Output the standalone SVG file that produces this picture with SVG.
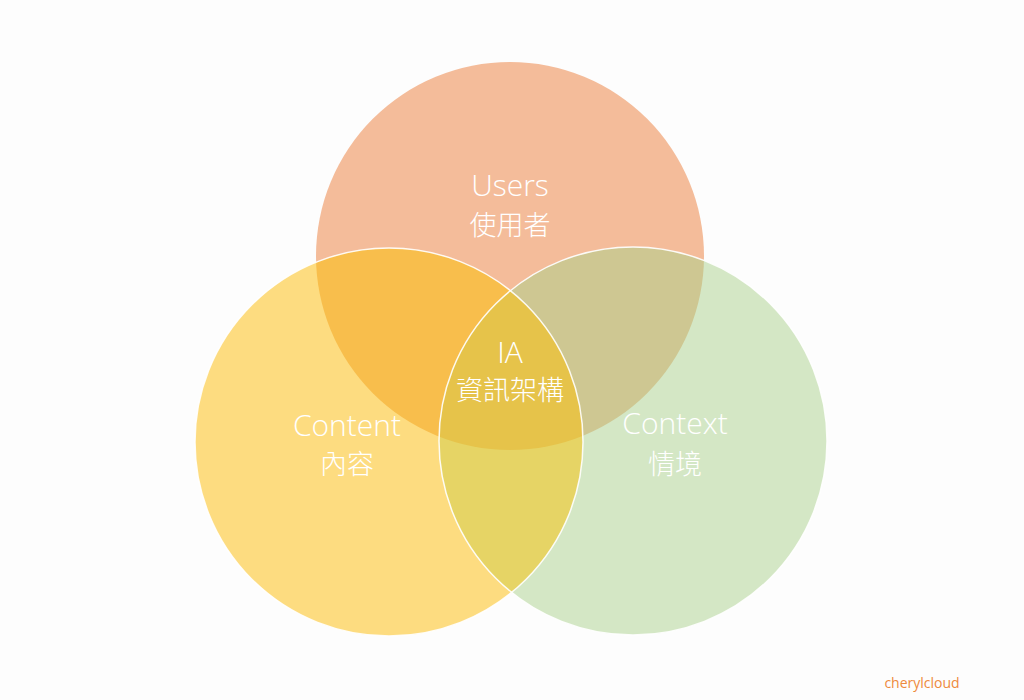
<svg xmlns="http://www.w3.org/2000/svg" width="1024" height="700" viewBox="0 0 1024 700">
<style>
.lbl{font-family:"Open Sans","Noto Sans","Noto Sans CJK TC",sans-serif;font-weight:300;fill:#ffffff;text-anchor:middle}
.en{font-size:30px}
.zh{font-family:"Noto Sans CJK TC","Noto Sans CJK JP",sans-serif;font-size:27px;font-weight:300}
.ol{fill:none;stroke:#ffffff;stroke-width:1.5;stroke-opacity:0.9}
</style>
<defs>
<clipPath id="cU"><circle cx="510" cy="256" r="194"/></clipPath>
<clipPath id="cC"><circle cx="389" cy="442" r="194"/></clipPath>
<clipPath id="cX"><circle cx="633" cy="441" r="194"/></clipPath>
</defs>
<rect width="1024" height="700" fill="#fdfdfd"/>
<g id="users">
<circle cx="510" cy="256" r="194" fill="#f4bc9a"/>
</g>
<g id="content">
<circle cx="389" cy="442" r="194" fill="#fddc80"/>
</g>
<g id="context">
<circle cx="633" cy="441" r="194" fill="#d4e7c5"/>
</g>
<g id="overlaps">
<circle cx="389" cy="442" r="194" fill="#f8be4c" clip-path="url(#cU)"/>
<circle cx="633" cy="441" r="194" fill="#cec792" clip-path="url(#cU)"/>
<circle cx="633" cy="441" r="194" fill="#e6d465" clip-path="url(#cC)"/>
<g clip-path="url(#cU)"><circle cx="633" cy="441" r="194" fill="#e6c34a" clip-path="url(#cC)"/></g>
</g>
<g id="connectors">
<circle class="ol" cx="389" cy="442" r="194"/>
<circle class="ol" cx="633" cy="441" r="194"/>
</g>
<g id="labels">
<text class="lbl en" x="510" y="196">Users</text>
<text class="lbl zh" x="510" y="235">使用者</text>
<text class="lbl en" x="510" y="363">IA</text>
<text class="lbl zh" x="510" y="400">資訊架構</text>
<text class="lbl en" x="347" y="436">Content</text>
<text class="lbl zh" x="347" y="474">內容</text>
<text class="lbl en" x="675" y="434">Context</text>
<text class="lbl zh" x="675" y="474">情境</text>
</g>
<g id="credit">
<text x="922" y="688" font-family="Open Sans,Noto Sans,sans-serif" font-size="14" fill="#ee8a3c" text-anchor="middle">cherylcloud</text>
</g>
</svg>
